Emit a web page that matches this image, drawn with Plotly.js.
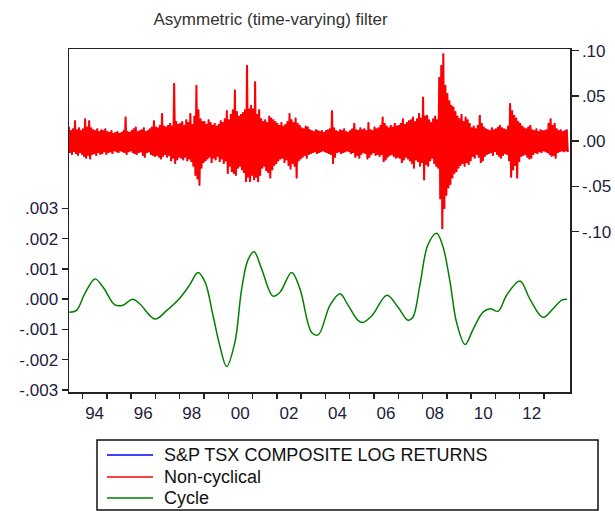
<!DOCTYPE html>
<html><head><meta charset="utf-8">
<script src="https://cdn.plot.ly/plotly-3.0.1.min.js"></script>
<style>html,body{margin:0;padding:0;background:#fff}</style>
</head><body><div id="chart" style="width:615px;height:511px"></div>
<script>
// Monthly envelope of the daily series (high / low of each month), June 1993 - Dec 2013
const startYear = 1993, startMonth = 6;
const tsxHigh = [
 0.016,0.012,0.014,0.023,0.013,0.015,0.012,
 0.014,0.025,0.016,0.023,0.015,0.013,0.012,0.014,0.011,0.013,0.012,0.014,
 0.011,0.010,0.012,0.009,0.010,0.011,0.009,0.010,0.012,0.027,0.011,0.010,
 0.012,0.014,0.016,0.011,0.012,0.013,0.015,0.011,0.012,0.014,0.016,0.023,
 0.016,0.015,0.018,0.031,0.017,0.016,0.018,0.020,0.017,0.064,0.022,0.019,
 0.020,0.022,0.018,0.024,0.021,0.031,0.019,0.028,0.062,0.035,0.025,0.022,
 0.022,0.019,0.024,0.021,0.018,0.020,0.017,0.019,0.023,0.021,0.025,0.034,
 0.024,0.030,0.035,0.057,0.033,0.028,0.030,0.032,0.035,0.084,0.036,0.040,
 0.036,0.066,0.030,0.035,0.025,0.022,0.024,0.021,0.028,0.026,0.024,0.022,
 0.020,0.018,0.021,0.017,0.019,0.022,0.031,0.024,0.021,0.026,0.020,0.018,
 0.015,0.014,0.017,0.016,0.013,0.012,0.011,0.013,0.012,0.011,0.012,0.010,
 0.012,0.013,0.014,0.034,0.015,0.012,0.011,0.013,0.012,0.014,0.011,0.010,
 0.012,0.014,0.020,0.013,0.012,0.015,0.013,0.014,0.012,0.021,0.013,0.012,
 0.016,0.014,0.015,0.018,0.027,0.020,0.017,0.015,0.018,0.016,0.020,0.017,
 0.018,0.020,0.025,0.019,0.021,0.023,0.024,0.027,0.022,0.025,0.031,0.026,
 0.049,0.028,0.029,0.024,0.021,0.025,0.028,0.024,0.071,0.084,0.097,0.062,
 0.053,0.045,0.040,0.038,0.033,0.028,0.025,0.030,0.022,0.027,0.024,0.020,
 0.015,0.017,0.014,0.018,0.029,0.020,0.016,0.014,0.013,0.012,0.015,0.013,
 0.014,0.016,0.018,0.015,0.014,0.013,0.017,0.042,0.034,0.029,0.026,0.022,
 0.020,0.017,0.015,0.014,0.016,0.018,0.013,0.012,0.014,0.011,0.013,0.012,
 0.012,0.013,0.020,0.025,0.018,0.020,0.014,0.012,0.013,0.011,0.012,0.013
];
const tsxLow = [
 -0.013,-0.015,-0.012,-0.014,-0.016,-0.013,-0.015,
 -0.017,-0.019,-0.016,-0.020,-0.015,-0.014,-0.016,-0.013,-0.015,-0.014,-0.012,-0.015,
 -0.013,-0.012,-0.014,-0.011,-0.012,-0.013,-0.011,-0.012,-0.013,-0.015,-0.012,-0.011,
 -0.013,-0.014,-0.015,-0.013,-0.012,-0.016,-0.018,-0.013,-0.012,-0.015,-0.016,-0.017,
 -0.016,-0.018,-0.020,-0.017,-0.015,-0.018,-0.016,-0.022,-0.019,-0.025,-0.021,-0.018,
 -0.019,-0.021,-0.018,-0.022,-0.020,-0.023,-0.028,-0.038,-0.042,-0.049,-0.030,-0.024,
 -0.022,-0.020,-0.018,-0.024,-0.019,-0.021,-0.017,-0.023,-0.020,-0.025,-0.022,-0.036,
 -0.028,-0.034,-0.036,-0.038,-0.030,-0.028,-0.032,-0.035,-0.045,-0.040,-0.045,-0.038,
 -0.043,-0.040,-0.045,-0.038,-0.030,-0.028,-0.033,-0.035,-0.041,-0.032,-0.027,-0.025,
 -0.022,-0.020,-0.019,-0.024,-0.021,-0.027,-0.031,-0.025,-0.028,-0.041,-0.022,-0.020,
 -0.018,-0.016,-0.019,-0.015,-0.014,-0.013,-0.012,-0.014,-0.013,-0.012,-0.011,-0.012,
 -0.013,-0.014,-0.015,-0.025,-0.018,-0.013,-0.012,-0.014,-0.013,-0.012,-0.011,-0.012,
 -0.014,-0.013,-0.018,-0.016,-0.019,-0.015,-0.013,-0.014,-0.020,-0.018,-0.015,-0.013,
 -0.016,-0.015,-0.017,-0.015,-0.023,-0.021,-0.018,-0.016,-0.015,-0.017,-0.019,-0.018,
 -0.019,-0.024,-0.021,-0.018,-0.020,-0.022,-0.025,-0.030,-0.021,-0.023,-0.028,-0.024,
 -0.043,-0.026,-0.028,-0.022,-0.019,-0.025,-0.028,-0.030,-0.064,-0.097,-0.075,-0.060,
 -0.052,-0.048,-0.041,-0.036,-0.034,-0.030,-0.027,-0.025,-0.028,-0.024,-0.026,-0.022,
 -0.017,-0.019,-0.015,-0.018,-0.024,-0.022,-0.017,-0.015,-0.014,-0.013,-0.016,-0.012,
 -0.015,-0.017,-0.019,-0.016,-0.014,-0.015,-0.022,-0.040,-0.032,-0.027,-0.041,-0.023,
 -0.017,-0.016,-0.015,-0.018,-0.020,-0.019,-0.015,-0.013,-0.014,-0.012,-0.013,-0.011,
 -0.012,-0.013,-0.015,-0.017,-0.016,-0.019,-0.013,-0.012,-0.011,-0.012,-0.011,-0.012
];
const cycleYears = [1993.45,1993.75,1994.09,1994.51,1994.84,1995.33,1995.66,1996.07,1996.36,1996.98,1997.47,1998.0,1998.41,1998.75,1999.04,1999.37,1999.65,1999.93,2000.27,2000.55,2000.81,2001.06,2001.37,2001.84,2002.13,2002.61,2002.95,2003.43,2003.7,2004.19,2004.6,2004.93,2005.34,2005.54,2005.92,2006.53,2006.99,2007.4,2007.6,2007.89,2008.22,2008.58,2008.84,2009.13,2009.4,2009.75,2010.08,2010.49,2010.78,2011.11,2011.46,2012.01,2012.42,2012.96,2013.37,2013.73,2013.95];
const cycleValues = [-0.00043,-0.00037,0.00018,0.00067,0.0004,-0.00019,-0.0002,0.0,-0.00016,-0.00066,-0.00037,0.00003,0.00047,0.00088,0.00057,-0.00054,-0.00154,-0.00223,-0.00143,0.00034,0.0013,0.00157,0.001,0.0001,0.00023,0.00088,0.00034,-0.0011,-0.00118,-0.0002,0.00018,-0.0002,-0.0007,-0.00077,-0.00054,0.00013,-0.00027,-0.0007,-0.0006,0.00047,0.0018,0.00218,0.00173,0.00057,-0.00077,-0.0015,-0.001,-0.00043,-0.00032,-0.0004,0.00013,0.0006,0.0,-0.0006,-0.00032,-0.00003,0.0];

const yearTicks = [1994,1995,1996,1997,1998,1999,2000,2001,2002,2003,2004,2005,2006,2007,2008,2009,2010,2011,2012,2013];
const yearLabels = ['94','','96','','98','','00','','02','','04','','06','','08','','10','','12',''];
const leftTicks = [-0.003,-0.002,-0.001,0,0.001,0.002,0.003];
const leftLabels = ['-.003','-.002','-.001','.000','.001','.002','.003'];
const rightTicks = [-0.10,-0.05,0,0.05,0.10];
const rightLabels = ['-.10','-.05','.00','.05','.10'];
const seriesNames = ['S&P TSX COMPOSITE LOG RETURNS','Non-cyclical','Cycle'];
const seriesColors = ['#0000ff','#ff0000','#008000'];
const titleText = 'Asymmetric (time-varying) filter';

const retX = [], retY = [];
for (let i = 0; i < tsxHigh.length; i++) {
  const t = startYear + (startMonth - 1 + i) / 12;
  retX.push(t + 0.25 / 12, t + 0.75 / 12);
  retY.push(tsxHigh[i], tsxLow[i]);
}

const FONT = 'Arial, "Liberation Sans", sans-serif';
const tickCol = '#1c1c40';

const traces = [
  {x: retX, y: retY, yaxis: 'y2', type: 'scatter', mode: 'lines', name: seriesNames[0],
   line: {color: seriesColors[0], width: 0.6}, showlegend: false, hoverinfo: 'skip'},
  {x: retX, y: retY, yaxis: 'y2', type: 'scatter', mode: 'lines', name: seriesNames[1],
   line: {color: seriesColors[1], width: 2}, showlegend: false, hoverinfo: 'skip'},
  {x: cycleYears, y: cycleValues, yaxis: 'y', type: 'scatter', mode: 'lines', name: seriesNames[2],
   line: {color: seriesColors[2], width: 1.5, shape: 'spline', smoothing: 1}, showlegend: false, hoverinfo: 'skip'}
];

// legend (drawn in paper coordinates below the plot)
const legendRows = [-0.1837, -0.2478, -0.309];
const shapes = [
  {type: 'rect', xref: 'paper', yref: 'paper', x0: 0.0559, x1: 1.0559, y0: -0.344, y1: -0.14,
   line: {color: '#111', width: 1.5}, fillcolor: 'rgba(0,0,0,0)'}
];
const annotations = [];
seriesNames.forEach((n, k) => {
  shapes.push({type: 'line', xref: 'paper', yref: 'paper', x0: 0.0758, x1: 0.1677,
    y0: legendRows[k], y1: legendRows[k], line: {color: seriesColors[k], width: 1.5}});
  annotations.push({xref: 'paper', yref: 'paper', x: 0.1856, y: legendRows[k], xanchor: 'left', yanchor: 'middle',
    text: n, showarrow: false, font: {family: FONT, size: 18, color: '#111'}});
});

const layout = {
  width: 615, height: 511,
  margin: {l: 69, r: 45, t: 49, b: 119, pad: 0},
  paper_bgcolor: '#fff', plot_bgcolor: '#fff',
  showlegend: false,
  title: {text: titleText, x: 0.44, xref: 'container', xanchor: 'center', y: 0.963, yref: 'container', yanchor: 'middle',
          font: {family: FONT, size: 17, color: '#333'}},
  xaxis: {type: 'linear', range: [1993.44, 2014.07], showgrid: false, zeroline: false,
          showline: true, linecolor: '#222', linewidth: 1.5, mirror: true,
          tickmode: 'array', tickvals: yearTicks, ticktext: yearLabels, ticklabelshift: 12,
          ticks: 'outside', ticklen: 5, tickcolor: '#222', tickwidth: 1.5,
          tickfont: {family: FONT, size: 17, color: tickCol}},
  yaxis: {range: [-0.00307, 0.00827], showgrid: false, zeroline: false,
          showline: true, linecolor: '#222', linewidth: 1.5, mirror: true,
          tickmode: 'array', tickvals: leftTicks, ticktext: leftLabels,
          ticks: 'outside', ticklen: 6, tickcolor: '#222', tickwidth: 1.5,
          tickfont: {family: FONT, size: 17, color: tickCol}},
  yaxis2: {overlaying: 'y', side: 'right', range: [-0.2771, 0.1019], showgrid: false, zeroline: false,
          showline: true, linecolor: '#222', linewidth: 1.5,
          tickmode: 'array', tickvals: rightTicks, ticktext: rightLabels,
          ticks: 'outside', ticklen: 7, tickcolor: '#222', tickwidth: 1.5,
          tickfont: {family: FONT, size: 17, color: tickCol}},
  shapes: shapes,
  annotations: annotations
};

Plotly.newPlot('chart', traces, layout, {displayModeBar: false, staticPlot: true});
</script></body></html>
